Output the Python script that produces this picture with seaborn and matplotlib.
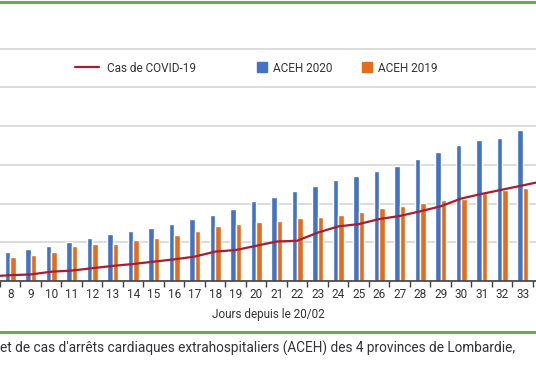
import numpy as np
import pandas as pd
import matplotlib
matplotlib.use('Agg')
import matplotlib.pyplot as plt
from matplotlib.lines import Line2D
from matplotlib.legend import Legend
import seaborn as sns

# Jours depuis le 20/02 (barres visibles)
days = list(range(8, 34))

# ACEH cumulés
aceh_2020 = [76, 83, 91, 101, 111, 122, 128, 136, 148, 161, 171, 186, 207,
             217, 232, 245, 261, 272, 283, 298, 314, 333, 352, 363, 370, 389]
aceh_2019 = [63, 68, 76, 91, 96, 96, 105, 111, 119, 128, 143, 148, 153,
             156, 162, 166, 170, 179, 188, 194, 201, 210, 211, 227, 234, 240]

# Cas de COVID-19 (la courbe déborde des deux côtés)
covid_days = list(range(7, 35))
covid_cases = [12, 15, 17, 24, 27, 33, 39, 44, 50, 56, 63, 76, 80, 91,
               102, 104, 125, 141, 147, 160, 168, 180, 193, 213, 225, 236, 247, 258]

BLUE = '#4472C4'
ORANGE = '#E36C1D'
RED = '#A51E32'
GREEN = '#6FA84C'
TEXT = '#333333'

df = pd.DataFrame({
    'Jour': days * 2,
    'ACEH': aceh_2020 + aceh_2019,
    'Serie': ['ACEH 2020'] * len(days) + ['ACEH 2019'] * len(days),
})

sns.set_theme(style='white')
plt.rcParams['font.family'] = ['Roboto', 'DejaVu Sans']

fig = plt.figure(figsize=(5.36, 3.86), dpi=100)
ax = fig.add_axes([0, 0.272, 1, 0.702])

sns.barplot(data=df, x='Jour', y='ACEH', hue='Serie', palette=[BLUE, ORANGE],
            width=0.55, gap=0, saturation=1, legend=False, ax=ax)
sns.lineplot(x=np.array(covid_days) - days[0], y=covid_cases, color=RED,
             lw=1.6, ax=ax)

ax.set_xlim(-0.5, 25.65)
ax.set_ylim(0, 700)
ax.set_yticks(range(0, 700, 100))
ax.set_yticklabels([])
ax.tick_params(axis='y', length=0)
ax.grid(axis='y', color='#d6d6d6', lw=1.2)
ax.set_axisbelow(True)
for side in ['left', 'right', 'top']:
    ax.spines[side].set_visible(False)
ax.spines['bottom'].set_color('#404040')
ax.spines['bottom'].set_linewidth(1.2)

# petits traits entre les catégories
ax.set_xticks(np.arange(-0.5, len(days), 1), minor=True)
ax.tick_params(axis='x', which='minor', length=4, width=1, color='#404040',
               direction='out', bottom=True)
ax.tick_params(axis='x', which='major', length=0, pad=5, labelsize=8.5,
               labelcolor=TEXT)
ax.set_xlabel('Jours depuis le 20/02', fontsize=8.5, color=TEXT, labelpad=5)
ax.set_ylabel('')

# légende : trois blocs placés comme sur l'original
entries = [
    (Line2D([], [], color=RED, lw=1.6), 'Cas de COVID-19', 75 / 536, 2.0, 0.7),
    (Line2D([], [], color=BLUE, marker='s', ls='none', ms=7), 'ACEH 2020', 256 / 536, 1.0, 0.45),
    (Line2D([], [], color=ORANGE, marker='s', ls='none', ms=7), 'ACEH 2019', 361 / 536, 1.0, 0.45),
]
for handle, label, xpos, hl, pad in entries:
    leg = Legend(ax, [handle], [label], loc='center left',
                 bbox_to_anchor=(xpos, 1 - 68 / 386),
                 bbox_transform=fig.transFigure, frameon=False,
                 fontsize=8.5, handlelength=hl, handletextpad=pad,
                 borderpad=0, borderaxespad=0)
    for t in leg.get_texts():
        t.set_color(TEXT)
    ax.add_artist(leg)

# filets verts du cadre
fig.add_artist(Line2D([0, 1], [1 - 1.5 / 386, 1 - 1.5 / 386], color=GREEN, lw=2.2))
fig.add_artist(Line2D([0, 1], [1 - 332 / 386, 1 - 332 / 386], color=GREEN, lw=2.2))

fig.text(0.0, 1 - 348 / 386,
         "et de cas d'arrêts cardiaques extrahospitaliers (ACEH) des 4 provinces de Lombardie,",
         fontsize=9.8, color=TEXT, va='center', ha='left')

fig.savefig('out.png', dpi=100)
